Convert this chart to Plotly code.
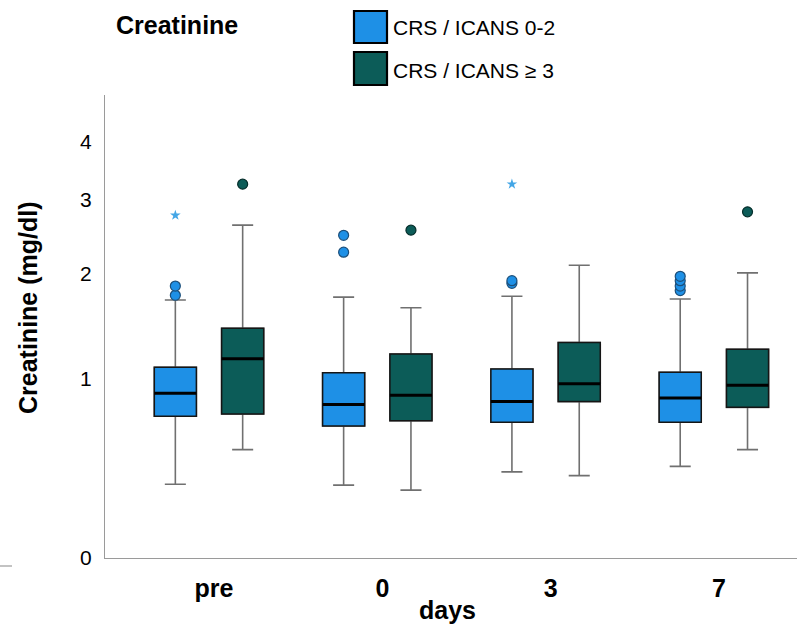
import numpy as np
import plotly.graph_objects as go

# creatinine (mg/dl) per day
days = ["pre", "0", "3", "7"]

low_q1 = [0.73, 0.665, 0.69, 0.69]
low_med = [0.89, 0.81, 0.83, 0.855]
low_q3 = [1.09, 1.045, 1.075, 1.05]
low_lo = [0.33, 0.325, 0.395, 0.425]
low_hi = [1.71, 1.74, 1.75, 1.72]
low_out = [[1.76, 1.86], [2.26, 2.48], [1.89, 1.92], [1.81, 1.86, 1.92, 1.97]]
low_ext = [[2.76], [], [3.24], []]

high_q1 = [0.745, 0.70, 0.83, 0.79]
high_med = [1.16, 0.875, 0.96, 0.95]
high_q3 = [1.43, 1.20, 1.30, 1.24]
high_lo = [0.52, 0.30, 0.375, 0.52]
high_hi = [2.62, 1.63, 2.10, 2.01]
high_out = [[3.24], [2.55], [], [2.81]]
high_ext = [[], [], [], []]

ytick_vals = [0, 1, 2, 3, 4]

BLUE = "#1e90e6"
GREEN = "#0c5c58"
W, H = 799, 630
L, R, T, B = 105, 2, 95, 72
PW, PH = W - L - R, H - T - B


def tr(v):
    # the chart's y axis is log(x+1)
    return np.log10(np.asarray(v, dtype=float) + 1)


def px(x):
    return (x - L) / PW


def py(y):
    return (H - B - y) / PH


fig = go.Figure()
pos = np.arange(len(days))

groups = [
    (pos - 0.2, BLUE, "#1c4f7a", low_q1, low_med, low_q3, low_lo, low_hi, low_out, low_ext),
    (pos + 0.2, GREEN, "#062e2b", high_q1, high_med, high_q3, high_lo, high_hi, high_out, high_ext),
]

for xs, col, edge, q1, med, q3, lo, hi, outs, exts in groups:
    # whiskers (grey)
    fig.add_trace(go.Box(x=xs, q1=tr(q1), median=tr(med), q3=tr(q3),
                         lowerfence=tr(lo), upperfence=tr(hi),
                         width=0.25, whiskerwidth=0.5, fillcolor=col,
                         line=dict(color="#707070", width=1.6),
                         boxpoints=False, showlegend=False, hoverinfo="skip"))
    # box body with dark outline
    fig.add_trace(go.Box(x=xs, q1=tr(q1), median=tr(med), q3=tr(q3),
                         lowerfence=tr(q1), upperfence=tr(q3),
                         width=0.25, whiskerwidth=0, fillcolor=col,
                         line=dict(color="#151515", width=1.5),
                         boxpoints=False, showlegend=False, hoverinfo="skip"))
    # thick median
    fig.add_trace(go.Box(x=xs, q1=tr(med), median=tr(med), q3=tr(med),
                         lowerfence=tr(med), upperfence=tr(med),
                         width=0.25, whiskerwidth=0, fillcolor=col,
                         line=dict(color="#000000", width=3),
                         boxpoints=False, showlegend=False, hoverinfo="skip"))
    ox = [xs[i] for i in range(len(days)) for _ in outs[i]]
    oy = [v for i in range(len(days)) for v in outs[i]]
    fig.add_trace(go.Scatter(x=ox, y=tr(oy), mode="markers", showlegend=False,
                             marker=dict(size=10, color=col, line=dict(color=edge, width=1.2))))
    ex = [xs[i] for i in range(len(days)) for _ in exts[i]]
    ey = [v for i in range(len(days)) for v in exts[i]]
    if ex:
        fig.add_trace(go.Scatter(x=ex, y=tr(ey), mode="markers", showlegend=False,
                                 marker=dict(size=8, symbol="star", color="#43a6e6")))

font = "Liberation Sans, Arial, sans-serif"

fig.update_layout(
    width=W, height=H,
    margin=dict(l=L, r=R, t=T, b=B),
    paper_bgcolor="white", plot_bgcolor="white",
    boxmode="overlay",
    font=dict(family=font, color="black"),
    xaxis=dict(range=[-0.618, 3.494], tickvals=pos + 0.03,
               ticktext=["<b>%s</b>" % d for d in days],
               tickfont=dict(size=25), showgrid=False, zeroline=False,
               showline=True, linecolor="#9a9a9a", linewidth=1.3,
               ticks="", ticklabelstandoff=8),
    yaxis=dict(range=[0, 0.777], tickvals=tr(ytick_vals),
               ticktext=[str(v) for v in ytick_vals],
               tickfont=dict(size=21), showgrid=False, zeroline=False,
               showline=True, linecolor="#9a9a9a", linewidth=1.3,
               ticks="", ticklabelstandoff=8),
)

ann = [
    dict(text="<b>Creatinine</b>", x=px(177), y=py(25), font=dict(size=25)),
    dict(text="<b>Creatinine (mg/dl)</b>", x=px(28), y=py(308), textangle=-90, font=dict(size=25)),
    dict(text="<b>days</b>", x=px(447), y=py(610), font=dict(size=25)),
    dict(text="CRS / ICANS 0-2", x=px(391), y=py(28), xanchor="left", font=dict(size=21)),
    dict(text="CRS / ICANS ≥ 3", x=px(391), y=py(70), xanchor="left", font=dict(size=21)),
]
for a in ann:
    a.setdefault("xanchor", "center")
    fig.add_annotation(xref="paper", yref="paper", yanchor="middle", showarrow=False, **a)

# legend squares
for top, bot, col in [(11, 43, BLUE), (52, 85, GREEN)]:
    fig.add_shape(type="rect", xref="paper", yref="paper",
                  x0=px(354), x1=px(387), y0=py(bot), y1=py(top),
                  fillcolor=col, line=dict(color="black", width=2.2))

# small stray dash at bottom-left
fig.add_shape(type="line", xref="paper", yref="paper",
              x0=px(0), x1=px(12), y0=py(566), y1=py(566),
              line=dict(color="#9a9a9a", width=1.2))

fig.write_html("out.html", config={"displayModeBar": False},
               post_script="document.body.style.margin='0';")
